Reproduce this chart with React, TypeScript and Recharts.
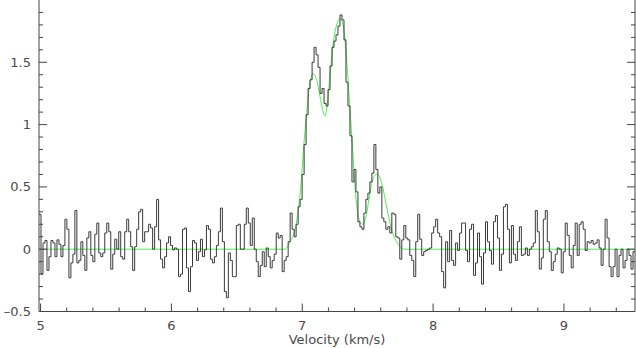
import React from 'react';
import { LineChart, Line, XAxis, YAxis } from 'recharts';

// Spectral axis (km/s): first channel edge, last channel edge
const V_START = 4.988;
const V_END = 9.543;

// Observed spectrum, channel by channel (left to right)
const spec5_0 = [0.28, -0.2, 0.05, 0.07, -0.17, -0.06, 0.07, 0.05, -0.06, 0.075, 0.04, -0.06, 0.03, 0.24, 0.16, -0.23, -0.11, -0.04, 0.31, -0.11, -0.09, 0.06, -0.05, -0.17, 0.09, 0.14, -0.05, -0.1, 0.12, 0.21, -0.03, -0.06, -0.03, 0.13, 0.21, 0.14, -0.16, -0.04, 0.08, 0, 0.14, -0.06];
const spec5_6 = [-0.08, 0.14, 0.24, 0.14, 0.02, -0.17, 0.02, 0.16, 0.30, 0.32, 0.06, 0.14, 0.14, 0.2, 0.17, 0, 0.18, 0.40, 0.075, -0.08, -0.15, -0.06, 0.05, 0.1, 0.03, -0.005, 0.01, 0, -0.22, -0.2, 0.16, 0.17, -0.15, -0.34, -0.14, 0.07, 0.05, -0.09, -0.02, 0.08, -0.06, -0.005, 0.19];
const spec6_3 = [0.16, -0.08, -0.11, -0.06, 0.03, 0.14, 0.33, 0.06, -0.34, -0.39, -0.03, -0.09, -0.22, -0.22, 0.19, 0.2, 0, 0, 0.2, 0.33, 0.21, 0.03, 0.25, 0, -0.1, -0.22, -0.13, -0.02, -0.14, 0.01, -0.06, -0.15, -0.09, -0.04, 0.13, 0.09, 0.11, -0.18, -0.09, -0.06, 0.06, 0.29, 0.16];
const specPeak = [0.10, 0.2, 0.34, 0.40, 0.6, 0.84, 1.08, 1.29, 1.36, 1.50, 1.62, 1.56, 1.46, 1.25, 1.29, 1.17, 1.15, 1.28, 1.47, 1.62, 1.67, 1.72, 1.79, 1.88, 1.84, 1.68, 1.34, 1.15, 0.91];
const specWing = [0.54, 0.64, 0.46, 0.22, 0.18, 0.16, 0.29, 0.40, 0.45, 0.54, 0.61, 0.84, 0.64, 0.45, 0.5, 0.25, 0.22, 0.16, 0.18, 0.13, 0.29, 0.28, 0.10, 0.09, -0.08, 0.075, 0.19, 0.09, 0.075, -0.05, -0.09];
const spec7_8 = [-0.22, 0.06, 0.28, 0.08, -0.05, -0.02, -0.01, 0, 0.01, 0.13, 0.18, 0.24, 0.13, 0.1, -0.18, -0.31, 0.06, -0.1, 0.15, -0.09, -0.13, 0.05, -0.01, 0.13, 0.21, 0.21, -0.01, -0.1, 0.16, 0.2, -0.21, -0.11, 0.13, -0.06, -0.28, -0.03, 0.22, 0.06, -0.01, -0.12, 0.22, 0.27, 0.09, -0.17, -0.04, 0.34, 0.36, 0.16, -0.11, 0.19, -0.04, -0.09, 0.06, 0.18, -0.05, -0.04];
const spec8_7 = [0.01, -0.05, 0, 0.02, 0.05, 0.31, 0.14, -0.16, -0.07, 0.24, 0.31, 0.06, -0.02, -0.17, -0.1, -0.04, 0.01, 0, -0.19, -0.02, 0.21, 0.11, -0.05, -0.15, 0.03, 0.21, -0.05, 0.2, 0.22, 0.16, -0.01, 0.06, 0.05, 0.07, 0.04, 0.05, 0.075, 0.01, -0.13, 0, 0.24, 0.09, -0.14, -0.22, -0.14, 0, -0.22, -0.05, 0, -0.15, -0.09, 0, -0.05, -0.16, -0.02];

// Gaussian fit (green), sampled along the curve
const fitVelocity = [4.988, 6.868, 6.906, 6.944, 6.97, 6.995, 7.013, 7.034, 7.051, 7.072, 7.084, 7.11, 7.135, 7.156, 7.174, 7.19, 7.212, 7.237, 7.263, 7.288, 7.314, 7.339, 7.365, 7.385, 7.403, 7.42, 7.441, 7.461, 7.487, 7.517, 7.543, 7.573, 7.607, 7.645, 7.683, 7.721, 7.75, 7.785, 9.543];
const fitValue = [0, 0, 0.06, 0.155, 0.32, 0.58, 0.85, 1.09, 1.28, 1.39, 1.41, 1.36, 1.23, 1.12, 1.07, 1.15, 1.39, 1.66, 1.80, 1.85, 1.79, 1.52, 1.12, 0.80, 0.50, 0.32, 0.22, 0.20, 0.26, 0.45, 0.57, 0.605, 0.53, 0.34, 0.155, 0.06, 0.02, 0, 0];

const xTicks = [5, 5.2, 5.4, 5.6, 5.8, 6, 6.2, 6.4, 6.6, 6.8, 7, 7.2, 7.4, 7.6, 7.8, 8, 8.2, 8.4, 8.6, 8.8, 9, 9.2, 9.4];
const yTicks = [-0.5, -0.4, -0.3, -0.2, -0.1, 0, 0.1, 0.2, 0.3, 0.4, 0.5, 0.6, 0.7, 0.8, 0.9, 1, 1.1, 1.2, 1.3, 1.4, 1.5, 1.6, 1.7, 1.8, 1.9];

const spectrum = [...spec5_0, ...spec5_6, ...spec6_3, ...specPeak, ...specWing, ...spec7_8, ...spec8_7];
const DV = (V_END - V_START) / spectrum.length;
const histData = spectrum.map((y, i) => ({ x: V_START + i * DV, y }));
histData.push({ x: V_START + spectrum.length * DV, y: spectrum[spectrum.length - 1] });
const fitData = fitVelocity.map((x, i) => ({ x, y: fitValue[i] }));

const AXIS = '#444';
const TEXT = '#4a4a4a';
const FONT = 'DejaVu Sans';
const MAJ = 8;
const MIN = 4;

const isMajorX = (v: number) => Math.abs(v - Math.round(v)) < 1e-6;
const isMajorY = (v: number) => Math.abs(v * 2 - Math.round(v * 2)) < 1e-6;
const fmtY = (v: number) => (v < 0 ? '\u2013' + String(-v) : String(v));

const BottomTick = (p: any) => {
  const v = p.payload.value;
  const m = isMajorX(v);
  return (
    <g>
      <line x1={p.x} x2={p.x} y1={p.y} y2={p.y - (m ? MAJ : MIN)} stroke={AXIS} />
      {m && (
        <text x={p.x} y={p.y + 18.5} textAnchor="middle" fill={TEXT} fontSize={13} fontFamily={FONT}>
          {String(v)}
        </text>
      )}
    </g>
  );
};
const TopTick = (p: any) => {
  const m = isMajorX(p.payload.value);
  return <line x1={p.x} x2={p.x} y1={p.y} y2={p.y + (m ? MAJ : MIN)} stroke={AXIS} />;
};
const LeftTick = (p: any) => {
  const v = p.payload.value;
  const m = isMajorY(v);
  return (
    <g>
      <line x1={p.x} x2={p.x + (m ? MAJ : MIN)} y1={p.y} y2={p.y} stroke={AXIS} />
      {m && (
        <text x={p.x - 8} y={p.y + 4.5} textAnchor="end" fill={TEXT} fontSize={13} fontFamily={FONT}>
          {fmtY(v)}
        </text>
      )}
    </g>
  );
};
const RightTick = (p: any) => {
  const m = isMajorY(p.payload.value);
  return <line x1={p.x} x2={p.x - (m ? MAJ : MIN)} y1={p.y} y2={p.y} stroke={AXIS} />;
};

export default function App() {
  return (
    <div style={{ position: 'absolute', left: 0, top: 0, width: 636, height: 348, background: '#fff' }}>
      <LineChart width={636} height={348} margin={{ top: 0, right: 0, bottom: 0, left: 0 }}>
        <XAxis
          xAxisId="b"
          dataKey="x"
          type="number"
          domain={[V_START, V_END]}
          allowDataOverflow
          ticks={xTicks}
          interval={0}
          height={36.5}
          tickSize={0}
          tickMargin={0}
          tickLine={false}
          tick={<BottomTick />}
          axisLine={{ stroke: AXIS }}
          label={{ value: 'Velocity (km/s)', position: 'insideBottom', offset: 4, fill: TEXT, fontSize: 13, fontFamily: FONT }}
        />
        <XAxis
          xAxisId="t"
          orientation="top"
          dataKey="x"
          type="number"
          domain={[V_START, V_END]}
          allowDataOverflow
          ticks={xTicks}
          interval={0}
          height={0}
          tickSize={0}
          tickMargin={0}
          tickLine={false}
          tick={<TopTick />}
          axisLine={{ stroke: AXIS }}
        />
        <YAxis
          yAxisId="l"
          type="number"
          domain={[-0.5, 2.0]}
          allowDataOverflow
          ticks={yTicks}
          interval={0}
          width={39}
          tickSize={0}
          tickMargin={0}
          tickLine={false}
          tick={<LeftTick />}
          axisLine={{ stroke: AXIS }}
        />
        <YAxis
          yAxisId="r"
          orientation="right"
          type="number"
          domain={[-0.5, 2.0]}
          allowDataOverflow
          ticks={yTicks}
          interval={0}
          width={1}
          tickSize={0}
          tickMargin={0}
          tickLine={false}
          tick={<RightTick />}
          axisLine={{ stroke: AXIS }}
        />
        <Line
          xAxisId="b"
          yAxisId="l"
          data={fitData}
          dataKey="y"
          type="monotone"
          stroke="#4cf04c"
          strokeWidth={1}
          dot={false}
          activeDot={false}
          isAnimationActive={false}
        />
        <Line
          xAxisId="b"
          yAxisId="l"
          data={histData}
          dataKey="y"
          type="stepAfter"
          stroke="#3a3a3a"
          strokeWidth={1}
          dot={false}
          activeDot={false}
          isAnimationActive={false}
        />
      </LineChart>
    </div>
  );
}
